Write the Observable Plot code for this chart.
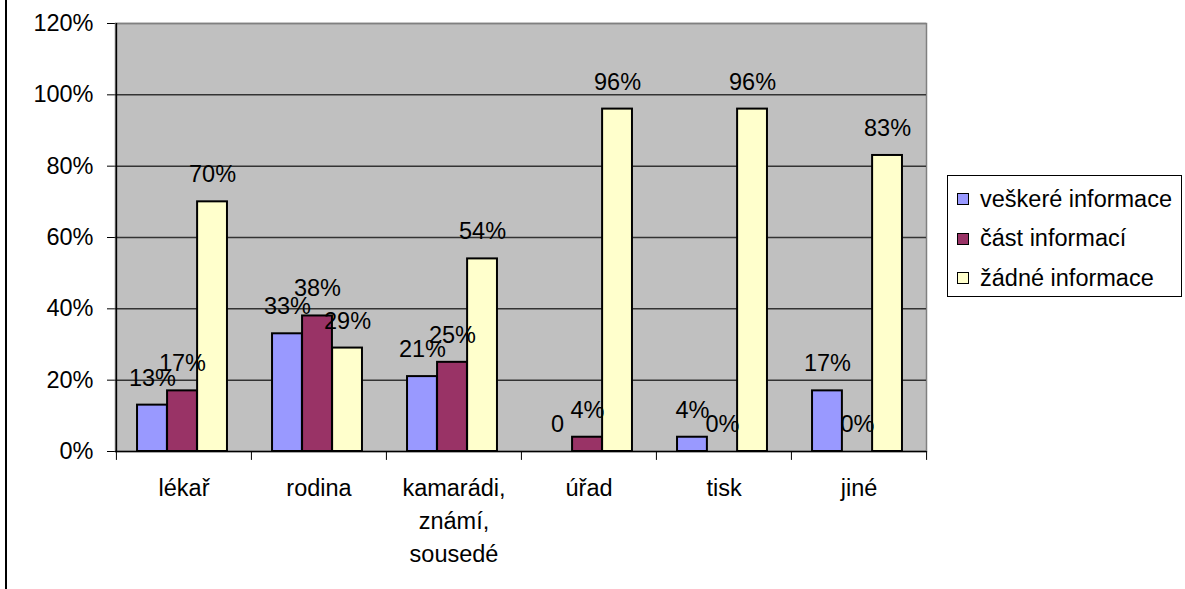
<!DOCTYPE html>
<html>
<head>
<meta charset="utf-8">
<script src="https://cdn.jsdelivr.net/npm/d3@7"></script>
<script src="https://cdn.jsdelivr.net/npm/@observablehq/plot@0.6"></script>
<style>
  html, body { margin: 0; padding: 0; background: #fff; }
  #chart { position: relative; width: 1185px; height: 589px; overflow: hidden;
           font-family: "Liberation Sans", Arial, sans-serif; }
  #edge { position: absolute; left: 5px; top: 0; width: 2px; height: 589px; background: #000; }
  #legend { position: absolute; left: 947px; top: 175px; width: 235px; height: 122px;
            border: 1px solid #000; background: #fff; box-sizing: border-box;
            font-size: 23.5px; color: #000; }
  #legend .row { position: absolute; left: 9px; height: 30px; display: flex; align-items: center; }
  #legend .sw { width: 10px; height: 10px; border: 1.5px solid #000; margin-right: 11px; }
</style>
</head>
<body>
<div id="chart"><div id="edge"></div></div>
<script>
// Sources of information and share of respondents per answer
const categories = ["lékař", "rodina", "kamarádi, známí, sousedé", "úřad", "tisk", "jiné"];
const categoryLines = [["lékař"], ["rodina"], ["kamarádi,", "známí,", "sousedé"], ["úřad"], ["tisk"], ["jiné"]];
const series = ["veškeré informace", "část informací", "žádné informace"];
const allInfo  = [0.13, 0.33, 0.21, 0.00, 0.04, 0.17];
const partInfo = [0.17, 0.38, 0.25, 0.04, 0.00, 0.00];
const noInfo   = [0.70, 0.29, 0.54, 0.96, 0.96, 0.83];
const colors = ["#9999FF", "#993366", "#FFFFCC"];
const yTicks = [0, 0.2, 0.4, 0.6, 0.8, 1.0, 1.2];
// the one data label printed without a percent sign
const labelOverrides = {"úřad|veškeré informace": "0"};

const W = 1185, H = 589;
const mL = 115, mR = 259, mT = 23, mB = 138;
const bw = (W - mL - mR) / categories.length;   // category band width
const barW = bw * 2 / 9;                         // each of the three bars
const inset = (bw - barW) / 2;
const groupShift = -1.5;                         // bar cluster sits a hair left of the band centre
const pct = d3.format(".0%");

const seriesValues = [allInfo, partInfo, noInfo];
const rows = series.map((s, si) => categories.map((c, ci) => {
  const v = seriesValues[si][ci];
  return {category: c, series: s, si, value: v, label: labelOverrides[c + "|" + s] ?? pct(v)};
}));

const lineRows = categoryLines.flatMap((lines, ci) =>
  lines.map((t, li) => ({category: categories[ci], text: t, li, zero: 0})));
const maxLines = d3.max(categoryLines, l => l.length);

const marks = [
  Plot.frame({fill: "#C0C0C0", stroke: "#808080", strokeWidth: 1.5}),
  Plot.ruleY(yTicks.filter(d => d > 0 && d < 1.2), {stroke: "#333", strokeWidth: 1.5}),
  Plot.ruleY([1.2], {stroke: "#808080", strokeWidth: 1.5}),
];
rows.forEach((data, si) => {
  const dx = (si - 1) * barW + groupShift;
  marks.push(Plot.barY(data, {
    x: "category", y: "value", fill: colors[si], stroke: "#000", strokeWidth: 2,
    insetLeft: inset, insetRight: inset, dx
  }));
});
rows.forEach((data, si) => {
  const dx = (si - 1) * barW + groupShift;
  marks.push(Plot.text(data, {x: "category", y: "value", text: "label", dx, dy: -27, fill: "#000"}));
});
// axis lines
marks.push(Plot.ruleY([0], {stroke: "#000", strokeWidth: 1.5}));
marks.push(Plot.ruleX([categories[0]], {x: d => d, dx: -bw / 2, stroke: "#000", strokeWidth: 1.5}));
// x tick marks on category boundaries
const tickRows = categories.map(c => ({category: c, y1: 0, y2: -0.025}));
marks.push(Plot.ruleX(tickRows, {x: "category", y1: "y1", y2: "y2", dx: -bw / 2, stroke: "#000", clip: false}));
marks.push(Plot.ruleX(tickRows.slice(-1), {x: "category", y1: "y1", y2: "y2", dx: bw / 2, stroke: "#000", clip: false}));
// category labels, one text mark per line
for (let li = 0; li < maxLines; li++) {
  marks.push(Plot.text(lineRows.filter(d => d.li === li), {
    x: "category", y: "zero", text: "text", dy: 37 + li * 33, fill: "#000"
  }));
}

const chart = Plot.plot({
  width: W, height: H,
  marginLeft: mL, marginRight: mR, marginTop: mT, marginBottom: mB,
  style: {fontSize: "23.5px", fontFamily: "'Liberation Sans', Arial, sans-serif", color: "#000", background: "transparent"},
  x: {domain: categories, padding: 0, axis: null},
  y: {domain: [0, 1.2], ticks: yTicks, tickFormat: pct, tickSize: 8, tickPadding: 14, label: null},
  marks
});
document.getElementById("chart").appendChild(chart);

// legend box
const legend = document.createElement("div");
legend.id = "legend";
series.forEach((s, i) => {
  const row = document.createElement("div");
  row.className = "row";
  row.style.top = (8 + i * 39.5) + "px";
  const sw = document.createElement("span");
  sw.className = "sw";
  sw.style.background = colors[i];
  const t = document.createElement("span");
  t.textContent = s;
  row.appendChild(sw); row.appendChild(t);
  legend.appendChild(row);
});
document.getElementById("chart").appendChild(legend);
</script>
</body>
</html>
